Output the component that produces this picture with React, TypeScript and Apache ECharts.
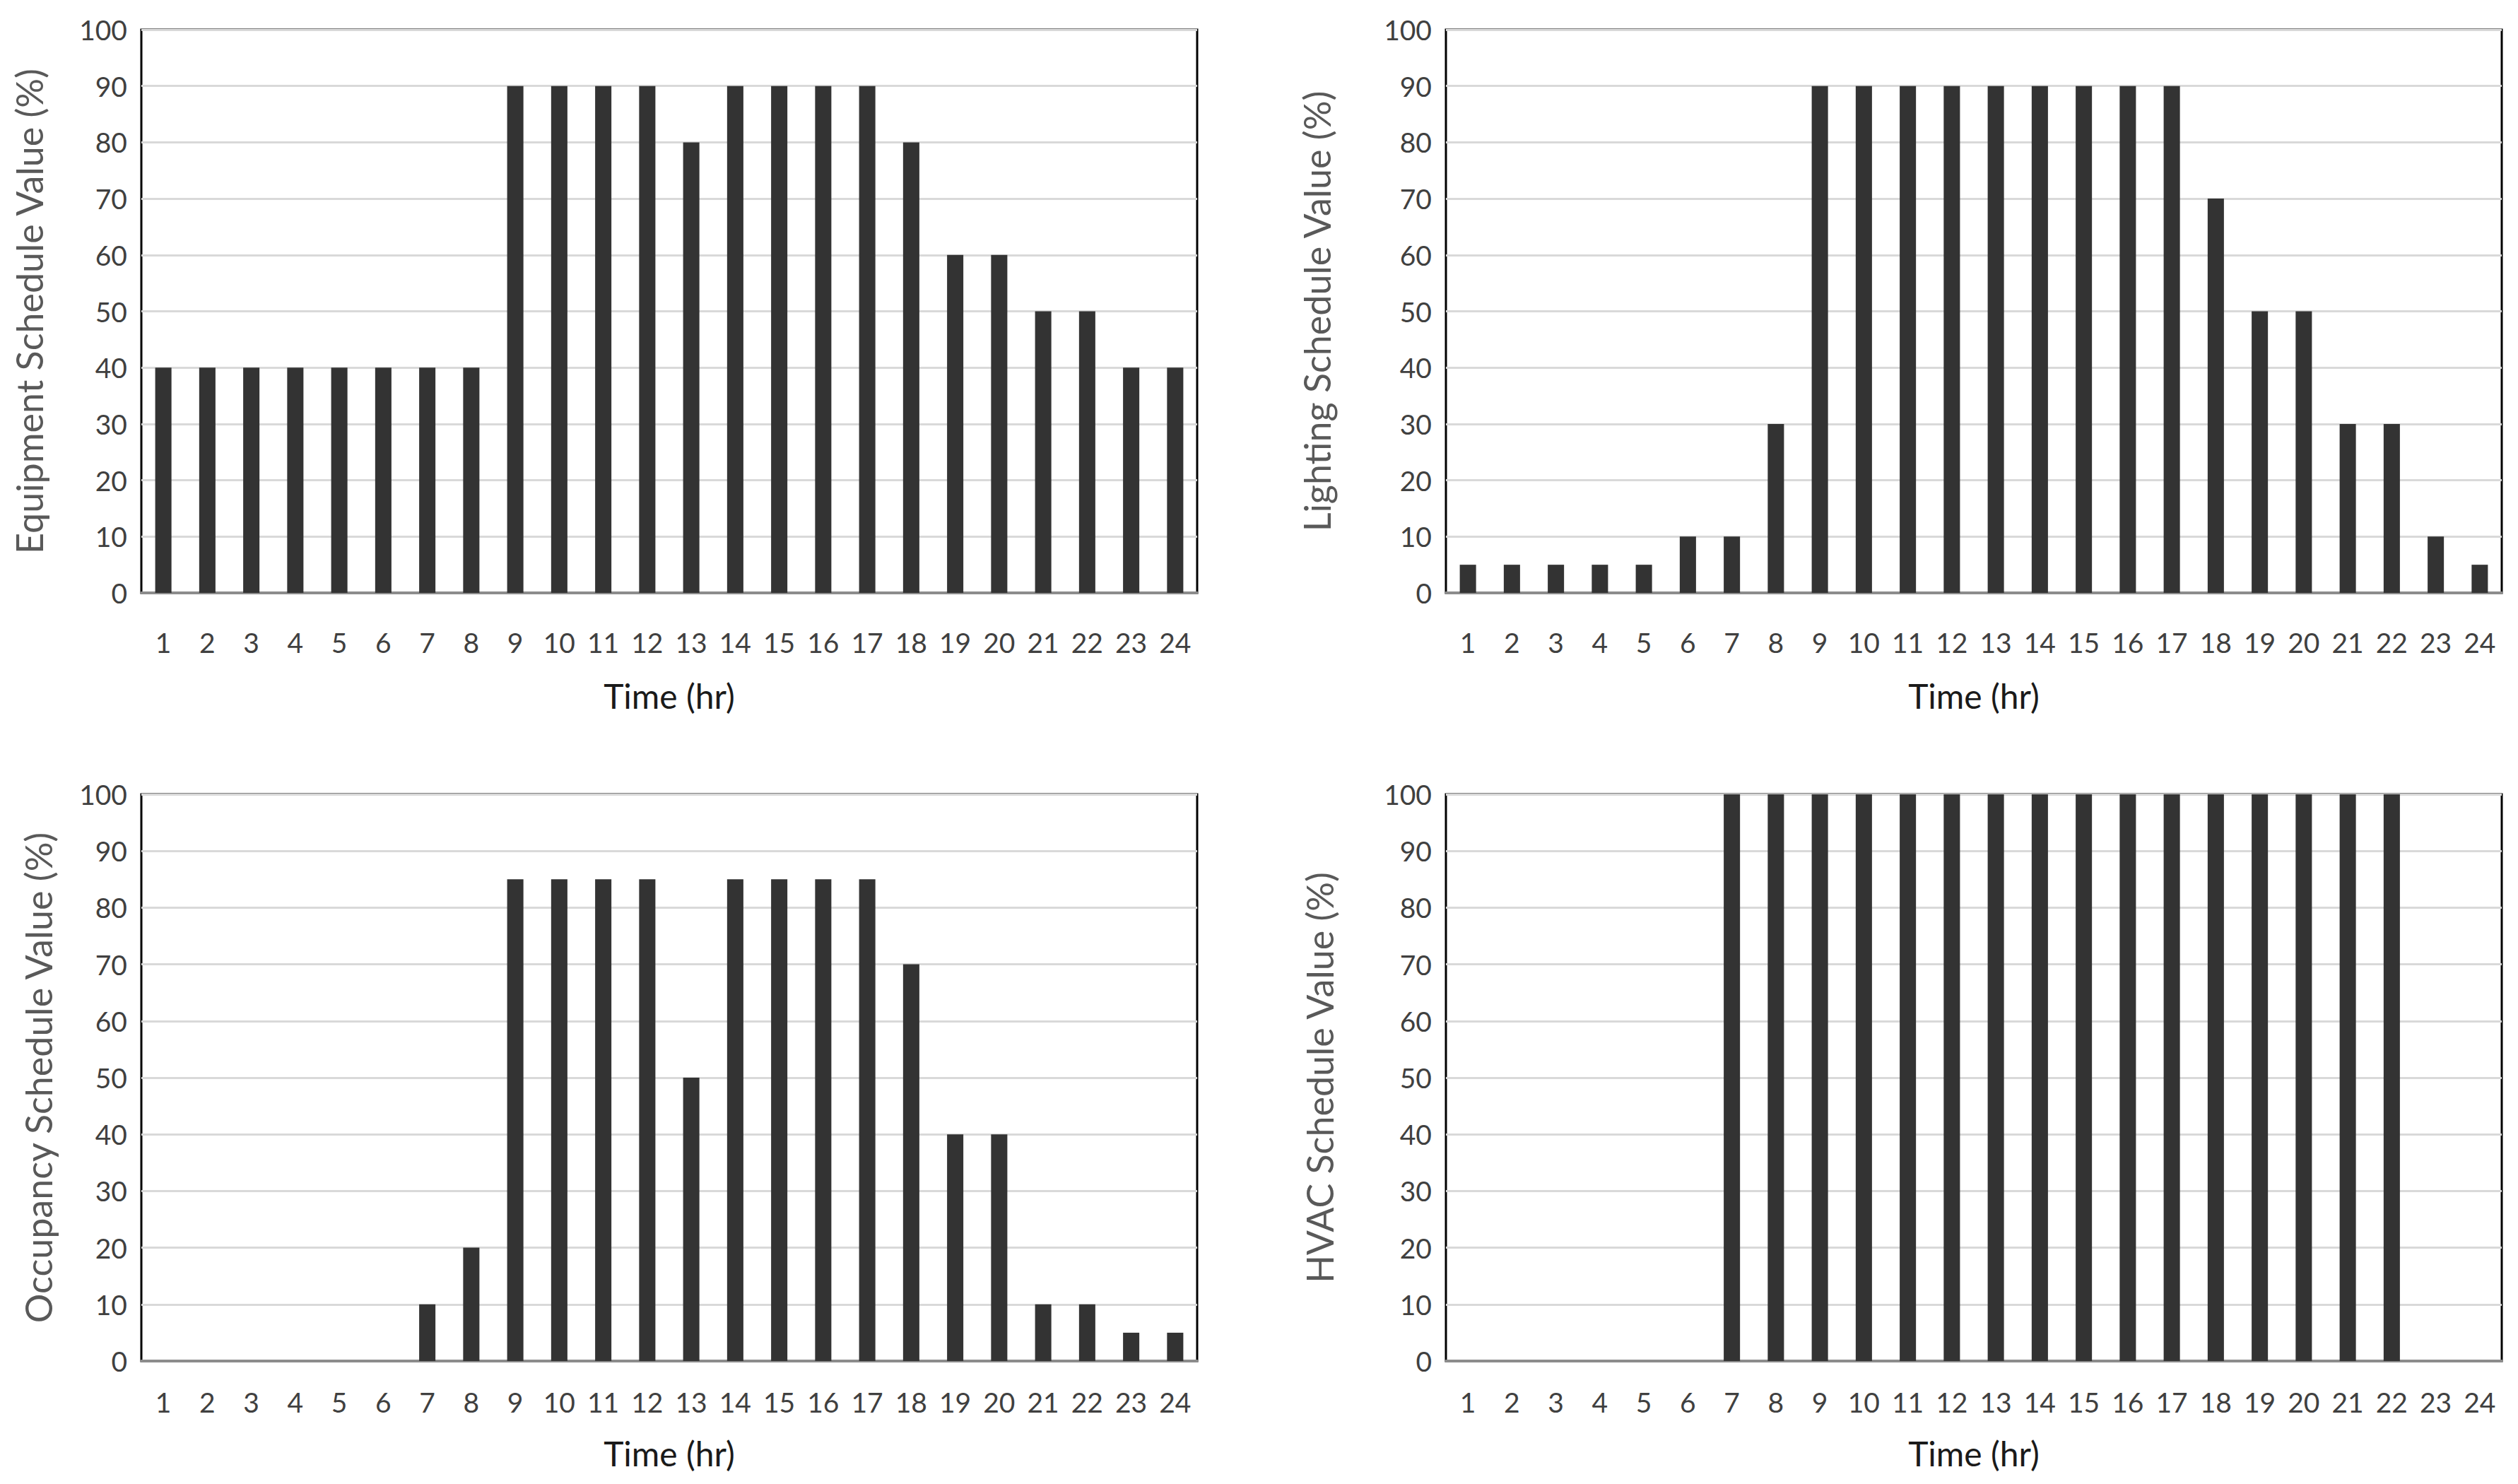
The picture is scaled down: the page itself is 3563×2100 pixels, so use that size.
import React, { useEffect, useRef } from "react";
import * as echarts from "echarts";

const hours = ["1","2","3","4","5","6","7","8","9","10","11","12","13","14","15","16","17","18","19","20","21","22","23","24"];
const equipment = [40,40,40,40,40,40,40,40,90,90,90,90,80,90,90,90,90,80,60,60,50,50,40,40];
const lighting = [5,5,5,5,5,10,10,30,90,90,90,90,90,90,90,90,90,70,50,50,30,30,10,5];
const occupancy = [0,0,0,0,0,0,10,20,85,85,85,85,50,85,85,85,85,70,40,40,10,10,5,5];
const hvac = [0,0,0,0,0,0,100,100,100,100,100,100,100,100,100,100,100,100,100,100,100,100,0,0];
const yTitles = ["Equipment Schedule Value (%)","Lighting Schedule Value (%)","Occupancy Schedule Value (%)","HVAC Schedule Value (%)"];
const xTitle = "Time (hr)";

const FONT = "Lato, 'Open Sans', sans-serif";

export default function App() {
  const ref = useRef<HTMLDivElement>(null);
  useEffect(() => {
    if (!ref.current) return;
    const chart = echarts.init(ref.current, undefined, { renderer: "svg" });
    const grids = [
      { left: 200, top: 42, width: 1494, height: 797 },
      { left: 2046, top: 42, width: 1494, height: 797 },
      { left: 200, top: 1124, width: 1494, height: 802 },
      { left: 2046, top: 1124, width: 1494, height: 802 },
    ];
    const data = [equipment, lighting, occupancy, hvac];
    const yGaps = [133, 157, 120, 153];
    const xLabelMargins = [50, 50, 38, 38];
    const xNameGaps = [121, 121, 106, 106];
    chart.setOption({
      animation: false,
      backgroundColor: "#ffffff",
      grid: grids.map((g) => ({ ...g, show: true, borderColor: "#000000", borderWidth: 3, backgroundColor: "transparent" })),
      xAxis: grids.map((_, i) => ({
        type: "category",
        gridIndex: i,
        data: hours,
        boundaryGap: true,
        axisTick: { show: false },
        axisLine: { show: true, lineStyle: { color: "#8c8c8c", width: 4 } },
        axisLabel: { color: "#404040", fontSize: 39, fontFamily: FONT, margin: xLabelMargins[i], interval: 0 },
        name: xTitle,
        nameLocation: "middle",
        nameGap: xNameGaps[i],
        nameTextStyle: { color: "#1a1a1a", fontSize: 48, fontFamily: FONT },
        splitLine: { show: false },
      })),
      yAxis: grids.map((_, i) => ({
        type: "value",
        gridIndex: i,
        min: 0,
        max: 100,
        interval: 10,
        axisTick: { show: false },
        axisLine: { show: false },
        axisLabel: { color: "#404040", fontSize: 39, fontFamily: FONT, margin: 20 },
        splitLine: { show: true, lineStyle: { color: "#d9d9d9", width: 3 } },
        name: yTitles[i],
        nameLocation: "middle",
        nameGap: yGaps[i],
        nameRotate: 90,
        nameTextStyle: { color: "#595959", fontSize: 52, fontFamily: FONT },
      })),
      series: data.map((d, i) => ({
        type: "bar",
        xAxisIndex: i,
        yAxisIndex: i,
        data: d,
        barWidth: "37%",
        itemStyle: { color: "#333333" },
      })),
    });
    return () => chart.dispose();
  }, []);
  return (
    <div
      ref={ref}
      style={{ position: "fixed", left: 0, top: 0, width: "3563px", height: "2100px", background: "#fff" }}
    />
  );
}
